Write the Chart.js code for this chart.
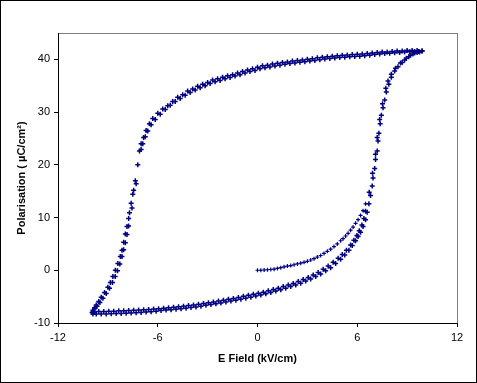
<!DOCTYPE html>
<html>
<head>
<meta charset="utf-8">
<script src="https://cdn.jsdelivr.net/npm/chart.js@4"></script>
<style>
  body { margin: 0; background: #fff; }
  #wrap { width: 477px; height: 383px; position: relative; }
</style>
</head>
<body>
<div id="wrap"><canvas id="loopChart"></canvas></div>
<script>
// tick values
const xTicks = [-12, -6, 0, 6, 12];
const yTicks = [-10, 0, 10, 20, 30, 40];

// upper branch, 1st cycle (field going down from +10 to -10)
const upperE = [9.9, 9.6, 9.3, 9.0, 8.7, 8.4, 8.1, 7.8, 7.5, 7.2, 6.9, 6.6, 6.3, 6.0, 5.7, 5.4, 5.1, 4.8, 4.5, 4.2,
  3.9, 3.6, 3.3, 3.0, 2.7, 2.4, 2.1, 1.8, 1.5, 1.2, 0.9, 0.6, 0.3, 0.0, -0.3, -0.6, -0.9, -1.2, -1.5, -1.8,
  -2.1, -2.4, -2.7, -3.0, -3.3, -3.6, -3.9, -4.2, -4.5, -4.8, -5.1, -5.4, -5.7, -6.0, -6.3, -6.5, -6.7, -6.85, -7.0, -7.1,
  -7.2, -7.35, -7.45, -7.5, -7.6, -7.7, -7.75, -7.85, -7.95, -8.05, -8.15, -8.25, -8.4, -8.55, -8.7, -8.85, -9.0, -9.2, -9.4, -9.55,
  -9.7, -9.8, -9.9, -9.95];
const upperP = [41.6, 41.7, 41.7, 41.7, 41.6, 41.6, 41.5, 41.4, 41.4, 41.3, 41.2, 41.1, 41.0, 40.95, 40.9, 40.85, 40.8, 40.7, 40.6, 40.5,
  40.4, 40.3, 40.1, 40.0, 39.9, 39.8, 39.7, 39.5, 39.4, 39.25, 39.1, 38.9, 38.8, 38.5, 38.2, 38.0, 37.7, 37.4, 37.1, 36.9,
  36.6, 36.3, 36.1, 35.6, 35.3, 34.9, 34.4, 34.0, 33.3, 32.8, 32.0, 31.2, 30.6, 29.8, 28.8, 27.8, 26.5, 25.2, 24.0, 22.6,
  20.0, 17.0, 15.2, 14.4, 12.7, 10.9, 9.8, 8.3, 6.9, 5.3, 3.8, 2.6, 1.3, 0.0, -1.2, -2.3, -3.2, -4.2, -5.1, -5.9,
  -6.6, -7.1, -7.6, -8.0];

// upper branch, 2nd cycle
const upper2E = [9.75, 9.45, 9.15, 8.85, 8.55, 8.25, 7.95, 7.65, 7.35, 7.05, 6.75, 6.45, 6.15, 5.85, 5.55, 5.25, 4.95, 4.65, 4.35, 4.05,
  3.75, 3.45, 3.15, 2.85, 2.55, 2.25, 1.95, 1.65, 1.35, 1.05, 0.75, 0.45, 0.15, -0.15, -0.45, -0.75, -1.05, -1.35, -1.65, -1.95,
  -2.25, -2.55, -2.85, -3.15, -3.45, -3.75, -4.05, -4.35, -4.65, -4.95, -5.25, -5.55, -5.85, -6.15, -6.4, -6.6, -6.75, -6.9, -7.0,
  -7.3, -7.55, -7.75, -7.85, -7.95, -8.05, -8.15, -8.28, -8.42, -8.56, -8.72, -8.9, -9.1, -9.3, -9.48, -9.65, -9.8,
  -9.9];
const upper2P = [41.4, 41.5, 41.45, 41.4, 41.3, 41.25, 41.15, 41.1, 41.0, 40.9, 40.8, 40.7, 40.6, 40.55, 40.5, 40.4, 40.35, 40.25, 40.15, 40.05,
  39.95, 39.8, 39.7, 39.55, 39.45, 39.3, 39.2, 39.05, 38.9, 38.75, 38.55, 38.4, 38.2, 37.9, 37.7, 37.4, 37.1, 36.85, 36.55, 36.3,
  36.0, 35.75, 35.4, 35.0, 34.6, 34.2, 33.7, 33.2, 32.6, 32.0, 31.3, 30.5, 29.6, 28.6, 27.6, 26.4, 25.3, 24.0, 22.9,
  16.4, 11.8, 8.4, 6.8, 5.2, 3.9, 2.6, 1.2, -0.1, -1.2, -2.3, -3.4, -4.4, -5.3, -6.1, -6.8, -7.3,
  -7.9];

// lower branch, 1st cycle (field going up from -10 to +10)
const lowerE = [-9.9, -9.7, -9.4, -9.1, -8.8, -8.5, -8.2, -7.9, -7.6, -7.3, -7.0, -6.7, -6.4, -6.1, -5.8, -5.5, -5.2, -4.9, -4.6, -4.3,
  -4.0, -3.7, -3.4, -3.1, -2.8, -2.5, -2.2, -1.9, -1.6, -1.3, -1.0, -0.7, -0.4, -0.1, 0.2, 0.5, 0.8, 1.1, 1.4, 1.7,
  2.0, 2.3, 2.6, 2.9, 3.2, 3.5, 3.8, 4.1, 4.4, 4.7, 5.0, 5.25, 5.5, 5.7, 5.9, 6.05, 6.2, 6.35, 6.5, 6.6,
  6.7, 6.8, 6.9, 6.95, 7.05, 7.1, 7.2, 7.25, 7.3, 7.38, 7.45, 7.55, 7.65, 7.75, 7.9, 8.05, 8.25, 8.45, 8.7, 8.95,
  9.2, 9.45, 9.7];
const lowerP = [-8.3, -8.3, -8.3, -8.3, -8.25, -8.2, -8.2, -8.15, -8.1, -8.05, -8.0, -7.9, -7.85, -7.75, -7.65, -7.55, -7.5, -7.4, -7.3, -7.2,
  -7.05, -6.95, -6.8, -6.65, -6.5, -6.35, -6.2, -6.0, -5.85, -5.7, -5.5, -5.3, -5.1, -4.9, -4.7, -4.45, -4.2, -3.95, -3.7, -3.4,
  -3.1, -2.8, -2.45, -2.05, -1.65, -1.2, -0.7, -0.1, 0.5, 1.3, 2.1, 2.9, 3.8, 4.7, 5.6, 6.4, 7.2, 8.3, 9.6, 11.0,
  12.6, 14.2, 16.0, 17.5, 19.3, 21.0, 22.6, 24.5, 26.0, 27.8, 29.4, 30.8, 32.3, 33.8, 35.3, 36.6, 37.8, 38.6, 39.4, 40.2,
  40.8, 41.2, 41.5];

// lower branch, 2nd cycle
const lower2E = [-9.8, -9.55, -9.25, -8.95, -8.65, -8.35, -8.05, -7.75, -7.45, -7.15, -6.85, -6.55, -6.25, -5.95, -5.65, -5.35, -5.05, -4.75, -4.45, -4.15,
  -3.85, -3.55, -3.25, -2.95, -2.65, -2.35, -2.05, -1.75, -1.45, -1.15, -0.85, -0.55, -0.25, 0.05, 0.35, 0.65, 0.95, 1.25, 1.55, 1.85,
  2.15, 2.45, 2.75, 3.05, 3.35, 3.65, 3.95, 4.25, 4.55, 4.85, 5.1, 5.35, 5.6, 5.8, 5.98, 6.12, 6.28, 6.4, 6.5,
  6.72, 6.92, 7.1, 7.2, 7.35, 7.52, 7.72, 7.85, 8.05, 8.3, 8.6, 8.85, 9.1, 9.35,
  9.6, 9.9];
const lower2P = [-7.9, -7.8, -7.8, -7.75, -7.75, -7.7, -7.7, -7.65, -7.6, -7.55, -7.5, -7.45, -7.35, -7.3, -7.2, -7.1, -7.0, -6.9, -6.8, -6.7,
  -6.6, -6.45, -6.3, -6.15, -6.0, -5.85, -5.7, -5.5, -5.35, -5.15, -4.95, -4.75, -4.55, -4.35, -4.15, -3.9, -3.65, -3.4, -3.1, -2.8,
  -2.5, -2.15, -1.75, -1.35, -0.9, -0.4, 0.2, 0.8, 1.5, 2.3, 3.0, 3.8, 4.8, 5.7, 6.6, 7.5, 8.6, 9.8, 11.2,
  14.8, 18.4, 22.0, 25.2, 28.6, 31.6, 34.5, 35.9, 37.2, 38.3, 39.3, 39.9, 40.5, 41.0,
  41.3, 41.6];

// initial (virgin) curve from the origin
const virginE = [0.0, 0.2, 0.4, 0.6, 0.8, 1.0, 1.2, 1.4, 1.6, 1.8, 2.0, 2.2, 2.4, 2.6, 2.8, 3.0, 3.2, 3.4, 3.6, 3.8,
  4.0, 4.2, 4.4, 4.6, 4.8, 5.0, 5.15, 5.3, 5.45, 5.6, 5.75, 5.9, 6.05, 6.2, 6.35, 6.5];
const virginP = [0.0, 0.0, 0.05, 0.1, 0.15, 0.2, 0.35, 0.5, 0.65, 0.8, 0.9, 1.05, 1.2, 1.35, 1.5, 1.7, 1.95, 2.2, 2.5, 2.8,
  3.2, 3.6, 4.0, 4.5, 5.0, 5.6, 6.0, 6.5, 7.0, 7.6, 8.2, 8.9, 9.6, 10.4, 11.3, 12.6];

function toPoints(xs, ys) {
  return xs.map((x, i) => ({ x: x, y: ys[i] }));
}

const loopPoints = toPoints(lowerE, lowerP)
  .concat(toPoints(upperE, upperP))
  .concat(toPoints(lower2E, lower2P))
  .concat(toPoints(upper2E, upper2P));

// frame + grey plot border like the excel chart
const framePlugin = {
  id: 'frame',
  beforeDraw(chart) {
    const ctx = chart.ctx;
    const a = chart.chartArea;
    ctx.save();
    ctx.fillStyle = '#fff';
    ctx.fillRect(0, 0, chart.width, chart.height);
    ctx.strokeStyle = '#000';
    ctx.lineWidth = 1;
    ctx.strokeRect(0.5, 0.5, chart.width - 1, chart.height - 1);
    ctx.strokeStyle = '#808080';
    ctx.strokeRect(Math.round(a.left) + 0.5, Math.round(a.top) + 0.5, Math.round(a.right - a.left), Math.round(a.bottom - a.top));
    ctx.restore();
  },
};

const font = { family: "'Liberation Sans', Arial, sans-serif", size: 11 };

new Chart(document.getElementById('loopChart').getContext('2d'), {
  type: 'scatter',
  data: {
    datasets: [
      {
        label: 'initial',
        data: toPoints(virginE, virginP),
        showLine: false,
        pointStyle: 'cross',
        pointRadius: 2,
        pointBorderWidth: 1.2,
        borderColor: '#000080',
        backgroundColor: '#000080',
      },
      {
        label: 'P-E loop',
        data: loopPoints,
        showLine: false,
        pointStyle: 'cross',
        pointRadius: 2.5,
        pointBorderWidth: 1.5,
        borderColor: '#000080',
        backgroundColor: '#000080',
      },
    ],
  },
  options: {
    responsive: true,
    maintainAspectRatio: false,
    animation: false,
    layout: { padding: { left: 0, top: 33, right: 20, bottom: 0 } },
    plugins: {
      legend: { display: false },
      tooltip: { enabled: false },
    },
    scales: {
      x: {
        type: 'linear',
        min: -12,
        max: 12,
        afterBuildTicks: (scale) => { scale.ticks = xTicks.map((v) => ({ value: v })); },
        afterFit: (scale) => { scale.height = 60; },
        grid: { display: true, drawOnChartArea: false, drawTicks: true, tickLength: 4, color: '#000' },
        border: { color: '#000', width: 1 },
        ticks: { color: '#000', font: font, padding: 4, maxRotation: 0 },
        title: {
          display: true,
          text: 'E Field (kV/cm)',
          color: '#000',
          font: { family: font.family, size: 11, weight: 'bold' },
          padding: { top: 0, bottom: 17 },
        },
      },
      y: {
        type: 'linear',
        min: -10,
        max: 45,
        afterBuildTicks: (scale) => { scale.ticks = yTicks.map((v) => ({ value: v })); },
        afterFit: (scale) => { scale.width = 58; },
        grid: { display: true, drawOnChartArea: false, drawTicks: true, tickLength: 4, color: '#000' },
        border: { color: '#000', width: 1 },
        ticks: { color: '#000', font: font, padding: 4 },
        title: {
          display: true,
          text: 'Polarisation ( µC/cm²)',
          color: '#000',
          font: { family: font.family, size: 11, weight: 'bold' },
          padding: { top: 15, bottom: 0 },
        },
      },
    },
  },
  plugins: [framePlugin],
});
</script>
</body>
</html>
